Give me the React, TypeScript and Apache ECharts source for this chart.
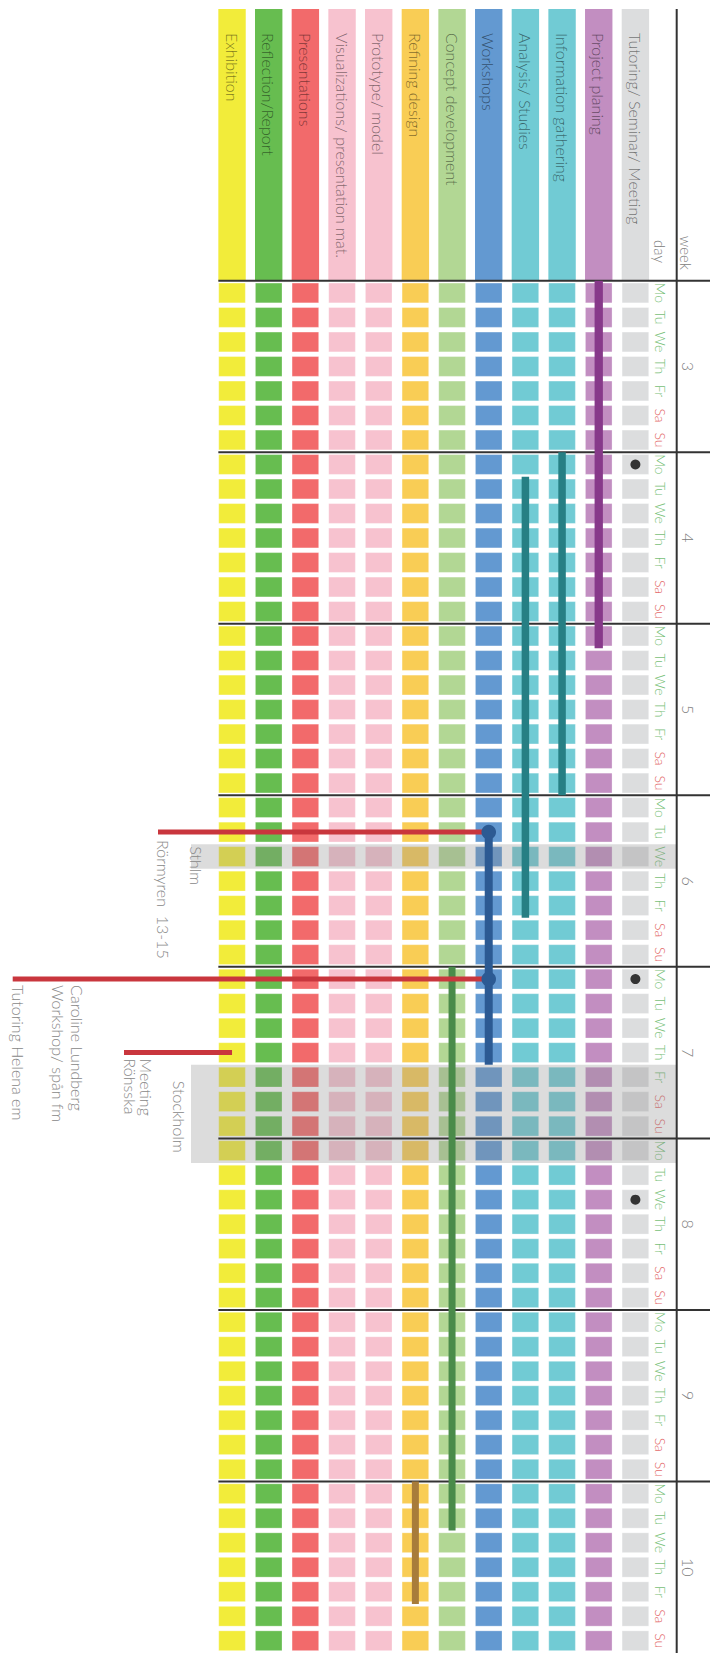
import React, { useEffect, useRef } from "react";
import * as echarts from "echarts";

// ---------- data ----------
const categories = [
  "Exhibition",
  "Reflection/Report",
  "Presentations",
  "Visualizations/ presentation mat.",
  "Prototype/ model",
  "Refining design",
  "Concept development",
  "Workshops",
  "Analysis/ Studies",
  "Information gathering",
  "Project planing",
  "Tutoring/ Seminar/ Meeting",
];
const weeks = [3, 4, 5, 6, 7, 8, 9, 10];
const dayNames = ["Mo", "Tu", "We", "Th", "Fr", "Sa", "Su"];
const weekendDays = ["Sa", "Su"];

// activity periods (bars drawn over the day cells)
const activityCategory = ["Project planing", "Information gathering", "Analysis/ Studies", "Workshops", "Concept development", "Refining design"];
const activityStart = ["3 Mo", "4 Mo", "4 Tu", "6 Tu", "7 Mo", "10 Mo"];
const activityEnd = ["5 Mo", "5 Su", "6 Fr", "7 Th", "10 Tu", "10 Fr"];

// single events
const workshopEvents = ["6 Tu", "7 Mo"];
const tutoringMeetings = ["4 Mo", "7 Mo", "8 We"];

// trips (shaded rows)
const tripStart = ["6 We", "7 Fr"];
const tripEnd = ["6 We", "8 Mo"];
const tripLabels = ["Sthlm", "Stockholm"];

// notes
const noteDays = ["6 Tu", "7 Mo", "7 Th"];
const noteTargets = ["Workshops", "Workshops", "Exhibition"];
const noteTexts = [
  ["Rörmyren  13-15"],
  ["Caroline Lundberg", "Workshop/ spån fm", "", "Tutoring Helena em"],
  ["Meeting", "Röhsska"],
];

// ---------- styles / layout ----------
const categoryColors = ["#F2EC3A", "#67BD50", "#F26A6B", "#F7C2CF", "#F7C2CF", "#F9CD55", "#B2D794", "#6399D1", "#71CBD4", "#71CBD4", "#C28EC1", "#DCDDDE"];
const activityColors = ["#87398A", "#267F84", "#267F84", "#2C5A93", "#4A8B4A", "#A87C3A"];
const activityWidths = [8.3, 7.5, 7.5, 8, 7, 7];
const W = 710;
const H = 1653;
const GRID_LEFT = 213.7;
const GRID_TOP = 280.7;
const COL_W = 36.67;
const ROW_H = 24.57;
const CELL_W = 27.4;
const CELL_H = 20.6;
const HEADER_TOP = 9;
const HEADER_TEXT_TOP = 33;
const AXIS_X = 676.7;
const BAND_LEFT = 191;
const RED = "#C9363D";
const NOTE_GRAY = "#888888";
const FONT = "Lato";
const FONT_WEIGHT = 300;
const noteLineLeft = [158, 12.7, 124];
const noteTextX = [[163.5], [77.5, 58.5, 39.5, 18.5], [146.5, 130.5]];
const noteTextGap = [8, 6, 6];
const tripLabelX = [196.5, 179.5];
const tripLabelGap = [2, 16];

const dayKeys = weeks.flatMap((w) => dayNames.map((d) => `${w} ${d}`));
const dayIdx = (k: string) => dayKeys.indexOf(k);
const catIdx = (c: string) => categories.indexOf(c);

export default function App() {
  const ref = useRef<HTMLDivElement>(null);

  useEffect(() => {
    if (!ref.current) return;
    const chart = echarts.init(ref.current, null, { renderer: "svg" });

    const cells: number[][] = [];
    categories.forEach((_, i) => dayKeys.forEach((_, j) => cells.push([i, j])));

    const textStyle = (text: string, fill: string, size: number, align = "left") => ({
      text,
      fill,
      font: `${FONT_WEIGHT} ${size}px ${FONT}`,
      align,
      verticalAlign: "middle",
    });

    const option: any = {
      animation: false,
      backgroundColor: "#ffffff",
      grid: { left: GRID_LEFT, top: GRID_TOP, width: COL_W * categories.length, height: ROW_H * dayKeys.length },
      xAxis: { type: "category", data: categories, show: false, position: "top" },
      yAxis: [
        {
          type: "category",
          data: dayKeys,
          inverse: true,
          position: "right",
          axisLine: { show: false },
          axisTick: { show: false },
          splitLine: { show: false },
          axisLabel: {
            interval: 0,
            rotate: -90,
            margin: 0,
            fontFamily: FONT,
            fontWeight: FONT_WEIGHT,
            fontSize: 14,
            formatter: (v: string) => v.split(" ")[1],
            color: (v: string) => (weekendDays.includes(String(v).split(" ")[1]) ? "#E36A6A" : "#78BF78"),
          },
        },
        {
          type: "category",
          data: weeks.map(String),
          inverse: true,
          position: "right",
          offset: AXIS_X - (GRID_LEFT + COL_W * categories.length),
          axisLine: { show: false },
          axisTick: { show: false },
          splitLine: { show: false },
          axisLabel: { interval: 0, rotate: -90, margin: 4, fontFamily: FONT, fontWeight: FONT_WEIGHT, fontSize: 16, color: "#808080" },
        },
      ],
      graphic: [
        { type: "line", shape: { x1: AXIS_X, y1: HEADER_TOP, x2: AXIS_X, y2: H }, style: { stroke: "#333", lineWidth: 2 }, z: 10 },
        { type: "text", x: 686, y: 270, rotation: -Math.PI / 2, style: textStyle("week", "#808080", 15, "right"), z: 10 },
        { type: "text", x: 659.5, y: 263, rotation: -Math.PI / 2, style: textStyle("day", "#808080", 15, "right"), z: 10 },
      ],
      series: [
        {
          type: "custom",
          name: "header",
          clip: false,
          z: 1,
          silent: true,
          data: categories.map((_, i) => [i, 0]),
          renderItem: (params: any, api: any) => {
            const i = params.dataIndex;
            const x = api.coord([i, 0])[0];
            return {
              type: "group",
              children: [
                { type: "rect", shape: { x: x - CELL_W / 2, y: HEADER_TOP, width: CELL_W, height: GRID_TOP - HEADER_TOP }, style: { fill: categoryColors[i] } },
                { type: "text", x, y: HEADER_TEXT_TOP, rotation: -Math.PI / 2, style: textStyle(categories[i], "rgba(0,0,0,0.5)", 16) },
              ],
            };
          },
        },
        {
          type: "scatter",
          name: "cells",
          z: 2,
          silent: true,
          symbol: "rect",
          symbolSize: [CELL_W - 0.8, CELL_H - 0.8],
          data: cells,
          itemStyle: {
            color: (p: any) => categoryColors[p.data[0]],
            borderColor: "rgba(255,255,255,0.35)",
            borderWidth: 0.8,
            opacity: 1,
          },
          emphasis: { disabled: true },
        },
        {
          type: "custom",
          name: "trips",
          clip: false,
          z: 3,
          silent: true,
          data: tripLabels.map((_, n) => [0, dayIdx(tripStart[n])]),
          renderItem: (params: any, api: any) => {
            const n = params.dataIndex;
            const h = api.size([1, 1])[1];
            const y0 = api.coord([0, dayIdx(tripStart[n])])[1] - h / 2;
            const y1 = api.coord([0, dayIdx(tripEnd[n])])[1] + h / 2;
            return {
              type: "group",
              children: [
                { type: "rect", shape: { x: BAND_LEFT, y: y0, width: AXIS_X - BAND_LEFT, height: y1 - y0 }, style: { fill: "rgba(142,142,142,0.31)" } },
                { type: "text", x: tripLabelX[n], y: y0 + tripLabelGap[n], rotation: -Math.PI / 2, style: textStyle(tripLabels[n], NOTE_GRAY, 16) },
              ],
            };
          },
        },
        {
          type: "custom",
          name: "weeks",
          clip: false,
          z: 4,
          silent: true,
          data: weeks.map((w) => [0, dayIdx(`${w} Mo`)]),
          renderItem: (params: any, api: any) => {
            const d = dayIdx(`${weeks[params.dataIndex]} Mo`);
            const [x, y] = api.coord([0, d]);
            const yy = y - api.size([1, 1])[1] / 2;
            return { type: "line", shape: { x1: x - CELL_W / 2, y1: yy, x2: W, y2: yy }, style: { stroke: "#333", lineWidth: 2 } };
          },
        },
        {
          type: "custom",
          name: "activities",
          clip: false,
          z: 5,
          silent: true,
          data: activityCategory.map((c, n) => [catIdx(c), dayIdx(activityStart[n]), dayIdx(activityEnd[n])]),
          renderItem: (params: any, api: any) => {
            const n = params.dataIndex;
            const c = catIdx(activityCategory[n]);
            const [x, ys] = api.coord([c, dayIdx(activityStart[n])]);
            const ye = api.coord([c, dayIdx(activityEnd[n])])[1];
            const h = api.size([1, 1])[1];
            const atEvent = activityCategory[n] === "Workshops" && workshopEvents.includes(activityStart[n]);
            const top = atEvent ? ys : ys - h / 2;
            const bottom = ye + h / 2;
            const w = activityWidths[n];
            return { type: "rect", shape: { x: x - w / 2, y: top, width: w, height: bottom - top }, style: { fill: activityColors[n] } };
          },
        },
        {
          type: "custom",
          name: "notes",
          clip: false,
          z: 6,
          silent: true,
          data: noteDays.map((d, n) => [catIdx(noteTargets[n]), dayIdx(d)]),
          renderItem: (params: any, api: any) => {
            const n = params.dataIndex;
            const [xEnd, yc] = api.coord([catIdx(noteTargets[n]), dayIdx(noteDays[n])]);
            const x0 = noteLineLeft[n];
            const children: any[] = [{ type: "rect", shape: { x: x0, y: yc - 2.5, width: xEnd - x0, height: 5 }, style: { fill: RED } }];
            noteTexts[n].forEach((t, k) => {
              if (!t) return;
              children.push({ type: "text", x: noteTextX[n][k], y: yc + noteTextGap[n], rotation: -Math.PI / 2, style: textStyle(t, NOTE_GRAY, 16) });
            });
            return { type: "group", children };
          },
        },
        {
          type: "scatter",
          name: "workshop events",
          z: 7,
          silent: true,
          symbol: "circle",
          symbolSize: 14.6,
          data: workshopEvents.map((d) => [catIdx("Workshops"), dayIdx(d)]),
          itemStyle: { color: "#2C5A93", opacity: 1 },
          emphasis: { disabled: true },
        },
        {
          type: "scatter",
          name: "tutoring",
          z: 7,
          silent: true,
          symbol: "circle",
          symbolSize: 10,
          data: tutoringMeetings.map((d) => [catIdx("Tutoring/ Seminar/ Meeting"), dayIdx(d)]),
          itemStyle: { color: "#333333", opacity: 1 },
          emphasis: { disabled: true },
        },
      ],
    };

    chart.setOption(option);
    return () => chart.dispose();
  }, []);

  return <div ref={ref} style={{ position: "absolute", left: 0, top: 0, width: W, height: H }} />;
}
